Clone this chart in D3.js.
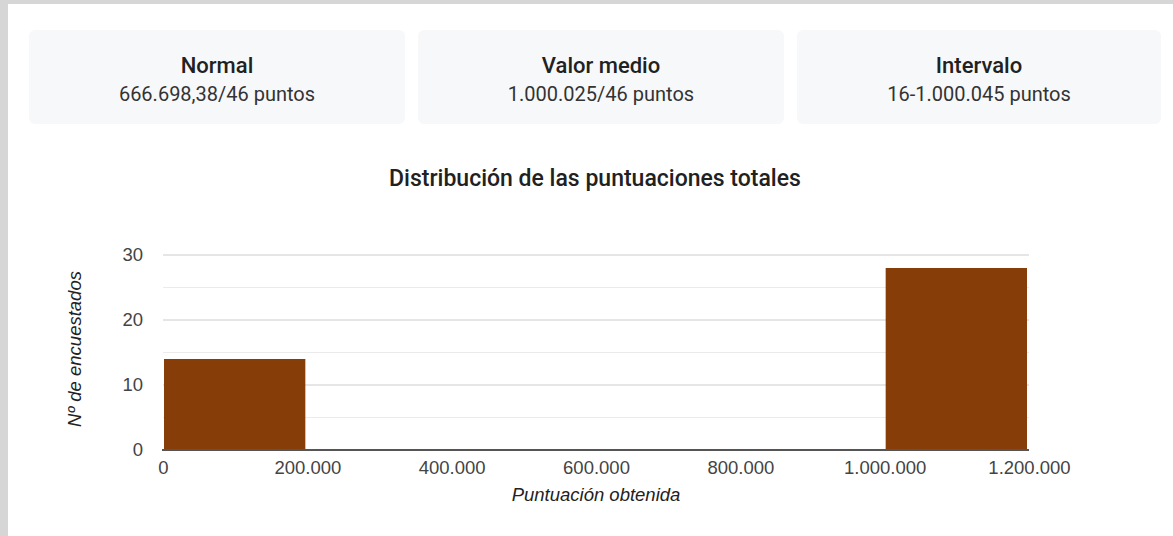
<!DOCTYPE html>
<html>
<head>
<meta charset="utf-8">
<script src="https://cdn.jsdelivr.net/npm/d3@7"></script>
<style>
  body { margin: 0; background: #fff; width: 1173px; height: 536px; overflow: hidden; position: relative; }
  .card { position: absolute; background: #f7f8fa; border-radius: 6px; text-align: center; font-family: Roboto, sans-serif; }
  .card .t { position: absolute; left: 0; right: 0; top: 23px; font-size: 22px; font-weight: 500; color: #212121; }
  .card .v { position: absolute; left: 0; right: 0; top: 52px; font-size: 20px; color: #333; }
</style>
</head>
<body>
<div id="page"></div>
<script>
// summary cards
const cardTitles = ["Normal", "Valor medio", "Intervalo"];
const cardValues = ["666.698,38/46 puntos", "1.000.025/46 puntos", "16-1.000.045 puntos"];

// histogram buckets
const bucketStarts = [0, 200000, 400000, 600000, 800000, 1000000];
const bucketSize = 200000;
const counts = [14, 0, 0, 0, 0, 28];
const xTicks = [0, 200000, 400000, 600000, 800000, 1000000, 1200000];
const yTicks = [0, 10, 20, 30];
const yMinor = [5, 15, 25];

const chartTitle = "Distribución de las puntuaciones totales";
const xTitle = "Puntuación obtenida";
const yTitle = "Nº de encuestados";

const es = d3.formatLocale({ decimal: ",", thousands: ".", grouping: [3], currency: ["", " €"] });
const fmt = es.format(",d");

const page = d3.select("#page");

// gray frame strips
page.append("div").style("position", "absolute").style("left", "0px").style("top", "0px")
    .style("width", "1173px").style("height", "4px").style("background", "#d6d6d6");
page.append("div").style("position", "absolute").style("left", "0px").style("top", "0px")
    .style("width", "8px").style("height", "536px").style("background", "#d6d6d6");

const cardBoxes = [[29, 376], [418, 366], [797, 364]];
page.selectAll("div.card")
    .data(cardTitles)
    .join("div")
    .attr("class", "card")
    .style("left", (d, i) => cardBoxes[i][0] + "px")
    .style("width", (d, i) => cardBoxes[i][1] + "px")
    .style("top", "30px")
    .style("height", "94px")
    .html((d, i) => `<div class="t">${d}</div><div class="v">${cardValues[i]}</div>`);

const svg = page.append("svg")
    .attr("width", 1173).attr("height", 536)
    .style("position", "absolute").style("left", "0px").style("top", "0px");

const x = d3.scaleLinear().domain([0, 1200000]).range([163, 1029]);
const y = d3.scaleLinear().domain([0, 30]).range([450, 255]);

svg.append("text")
    .attr("x", 595).attr("y", 186)
    .attr("text-anchor", "middle")
    .attr("font-family", "Roboto, sans-serif")
    .attr("font-size", 23).attr("font-weight", 500)
    .attr("fill", "#212121")
    .text(chartTitle);

// grid
svg.append("g").selectAll("line")
    .data(yMinor)
    .join("line")
    .attr("x1", x(0)).attr("x2", x(1200000))
    .attr("y1", d => y(d)).attr("y2", d => y(d))
    .attr("stroke", "#ebebeb");
svg.append("g").selectAll("line")
    .data(yTicks.filter(d => d > 0))
    .join("line")
    .attr("x1", x(0)).attr("x2", x(1200000))
    .attr("y1", d => y(d)).attr("y2", d => y(d))
    .attr("stroke", "#cccccc");

// bars
svg.append("g").selectAll("rect")
    .data(bucketStarts.map((s, i) => ({ x0: s, x1: s + bucketSize, n: counts[i] })).filter(d => d.n > 0))
    .join("rect")
    .attr("x", d => x(d.x0) + 1)
    .attr("width", d => x(d.x1) - x(d.x0) - 3)
    .attr("y", d => y(d.n))
    .attr("height", d => y(0) - y(d.n))
    .attr("fill", "#873d07");

// baseline
svg.append("line")
    .attr("x1", x(0) - 1).attr("x2", x(1200000))
    .attr("y1", y(0)).attr("y2", y(0))
    .attr("stroke", "#555").attr("stroke-width", 2);

// axes
const yAxis = svg.append("g")
    .attr("transform", "translate(143,0)")
    .call(d3.axisLeft(y).tickValues(yTicks).tickSize(0).tickPadding(0));
yAxis.select(".domain").remove();
yAxis.selectAll("text")
    .attr("font-family", "'Liberation Sans', Arial, sans-serif")
    .attr("font-size", 18.5).attr("fill", "#444");

const xAxis = svg.append("g")
    .attr("transform", `translate(0,${y(0)})`)
    .call(d3.axisBottom(x).tickValues(xTicks).tickFormat(fmt).tickSize(0).tickPadding(11));
xAxis.select(".domain").remove();
xAxis.selectAll("text")
    .attr("font-family", "'Liberation Sans', Arial, sans-serif")
    .attr("font-size", 18.5).attr("fill", "#444");

svg.append("text")
    .attr("x", 596).attr("y", 501)
    .attr("text-anchor", "middle")
    .attr("font-family", "'Liberation Sans', Arial, sans-serif")
    .attr("font-size", 18.5).attr("font-style", "italic")
    .attr("fill", "#222")
    .text(xTitle);

svg.append("text")
    .attr("transform", "translate(81,349) rotate(-90)")
    .attr("text-anchor", "middle")
    .attr("font-family", "'Liberation Sans', Arial, sans-serif")
    .attr("font-size", 18.5).attr("font-style", "italic")
    .attr("fill", "#222")
    .text(yTitle);
</script>
</body>
</html>
